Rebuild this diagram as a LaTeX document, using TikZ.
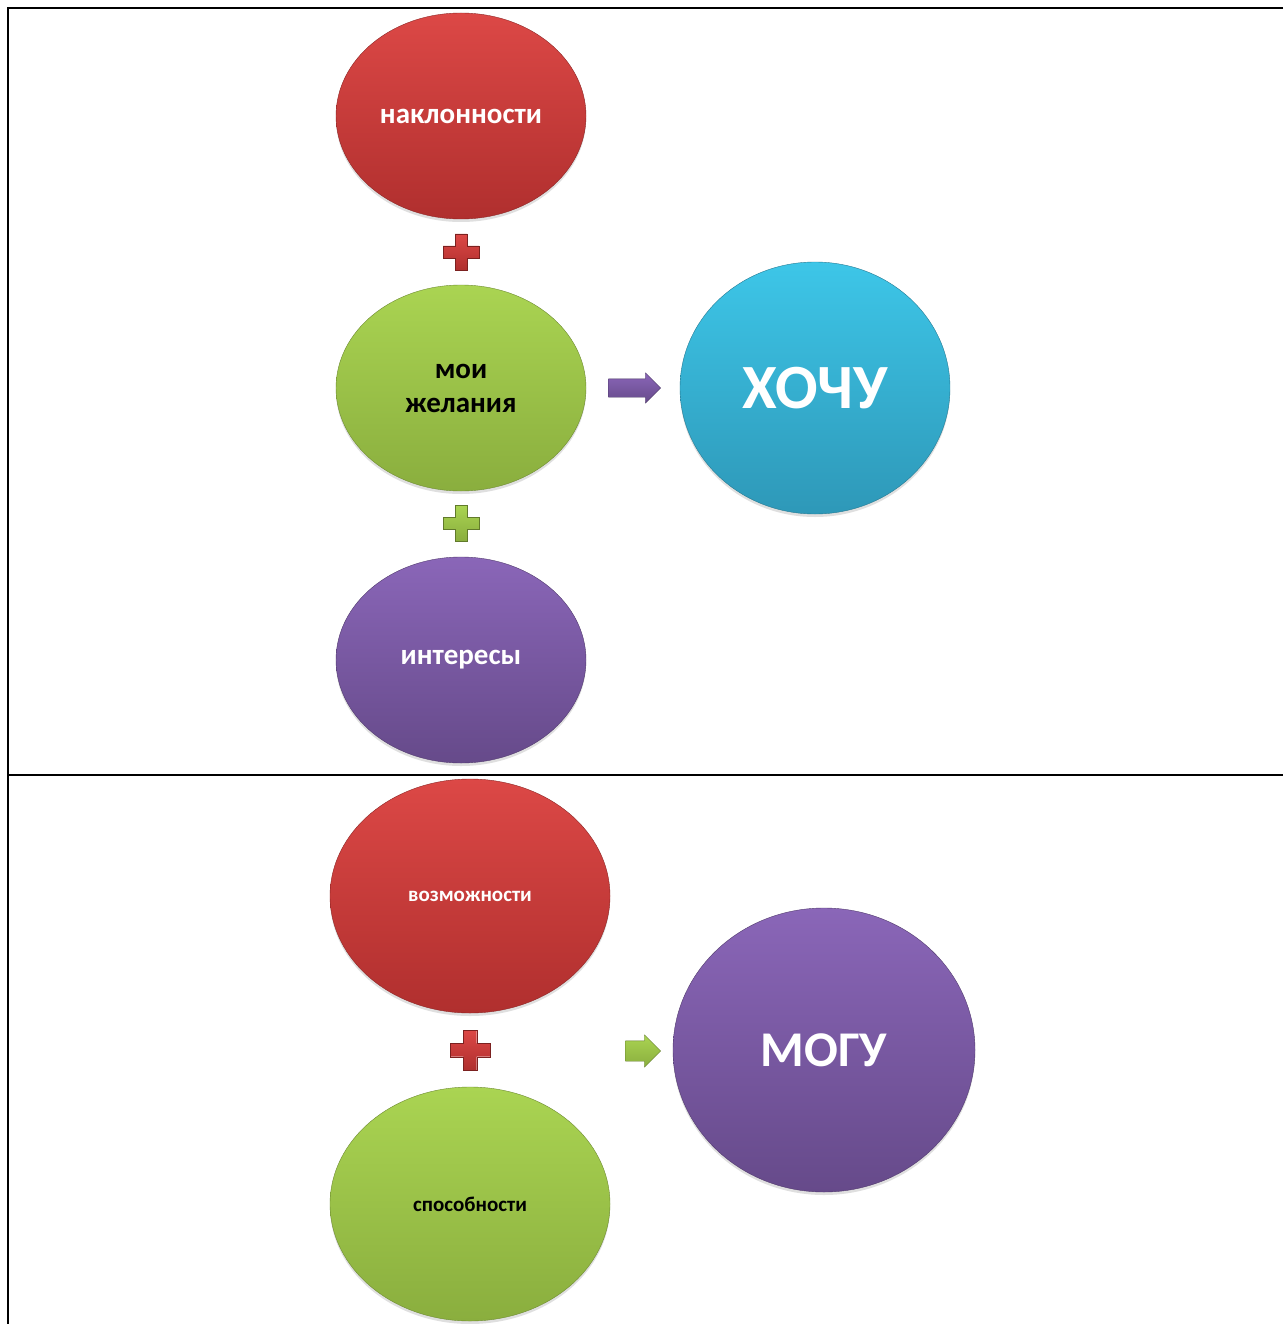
\documentclass[tikz,border=0pt]{standalone}
\usepackage{fontspec}
\setmainfont{Carlito}
\usetikzlibrary{shapes.geometric,shapes.arrows,shadows}
\definecolor{redT}{HTML}{DC4846}
\definecolor{redB}{HTML}{B02F2E}
\definecolor{grnT}{HTML}{AAD452}
\definecolor{grnB}{HTML}{8AAE3E}
\definecolor{purT}{HTML}{8A66B8}
\definecolor{purB}{HTML}{664A8A}
\definecolor{cyaT}{HTML}{3DC6E8}
\definecolor{cyaB}{HTML}{2E98B8}
\tikzset{
  blob/.style={ellipse, inner sep=0pt, font=\bfseries, align=center,
    drop shadow={opacity=0.25, shadow xshift=0pt, shadow yshift=-3pt}},
  redblob/.style={blob, top color=redT, bottom color=redB, draw=redB!80!black, line width=0.4pt, text=white},
  grnblob/.style={blob, top color=grnT, bottom color=grnB, draw=grnB!80!black, line width=0.4pt, text=black},
  purblob/.style={blob, top color=purT, bottom color=purB, draw=purB!80!black, line width=0.4pt, text=white},
  cyablob/.style={blob, top color=cyaT, bottom color=cyaB, draw=cyaB!80!black, line width=0.4pt, text=white},
  arr/.style={single arrow, inner sep=0pt, single arrow head indent=0pt,
    draw=#1!70!black, line width=0.3pt},
  frame/.style={line width=2pt, black},
  pics/plussign/.style n args={3}{code={
    \path[top color=#1, bottom color=#2, draw=#2!70!black, line width=0.3pt]
      (-#3/6,-#3/2) -- (#3/6,-#3/2) -- (#3/6,-#3/6) -- (#3/2,-#3/6) -- (#3/2,#3/6)
      -- (#3/6,#3/6) -- (#3/6,#3/2) -- (-#3/6,#3/2) -- (-#3/6,#3/6) -- (-#3/2,#3/6)
      -- (-#3/2,-#3/6) -- (-#3/6,-#3/6) -- cycle;
  }}
}
\begin{document}
\begin{tikzpicture}[x=1pt,y=-1pt]
\useasboundingbox (0,0) rectangle (1283,1324);
\fill[white] (0,0) rectangle (1283,1324);
% frame lines
\coordinate (tr) at (1283,8);
\coordinate (tl) at (8,8);
\coordinate (bl) at (8,1324);
\coordinate (ml) at (8,775);
\coordinate (mr) at (1283,775);
\draw[frame] (tr) -- (tl) -- (bl);
\draw[frame] (ml) -- (mr);

% top section
\node[redblob, minimum width=250pt, minimum height=206pt, font=\bfseries\fontsize{29}{34}\selectfont] (nakl) at (461,116) {наклонности};
\node[grnblob, minimum width=250pt, minimum height=206pt, font=\bfseries\fontsize{29}{34}\selectfont] (zhel) at (461,388) {мои\\желания};
\node[purblob, minimum width=250pt, minimum height=206pt, font=\bfseries\fontsize{29}{34}\selectfont] (inter) at (461,660) {интересы};
\node[cyablob, minimum width=270pt, minimum height=252pt, font=\bfseries\fontsize{63}{66}\selectfont] (hochu) at (815,388) {ХОЧУ};
\pic at (461,252) {plussign={redT}{redB}{36}};
\pic at (461,523) {plussign={grnT}{grnB}{36}};
\node[arr=purB, top color=purT, bottom color=purB, minimum height=52pt,
  single arrow head extend=6pt] (a1) at (630,388) {\rule{0pt}{18pt}};

% bottom section
\node[redblob, minimum width=280pt, minimum height=234pt, font=\bfseries\fontsize{21}{24}\selectfont] (vozm) at (470,896) {возможности};
\node[grnblob, minimum width=280pt, minimum height=234pt, font=\bfseries\fontsize{21}{24}\selectfont] (spos) at (470,1204) {способности};
\node[purblob, minimum width=302pt, minimum height=284pt, font=\bfseries\fontsize{50}{54}\selectfont] (mogu) at (824,1050) {МОГУ};
\pic at (470,1050) {plussign={redT}{redB}{40}};
\node[arr=grnB, top color=grnT, bottom color=grnB, minimum height=35pt,
  single arrow head extend=6pt] (a2) at (638,1051) {\rule{0pt}{20pt}};
\end{tikzpicture}
\end{document}
